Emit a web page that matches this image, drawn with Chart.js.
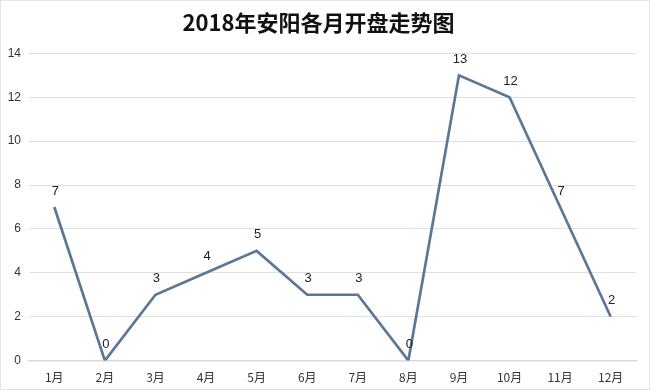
<!DOCTYPE html>
<html><head><meta charset="utf-8">
<script src="https://cdn.jsdelivr.net/npm/chart.js@4"></script>
<style>html,body{margin:0;padding:0;background:#fff}#wrap{width:650px;height:390px;position:relative;box-sizing:border-box;border:1px solid #e4e4e4}</style>
</head><body><div id="wrap"><canvas id="c"></canvas></div>
<script>
const categories = ['1月','2月','3月','4月','5月','6月','7月','8月','9月','10月','11月','12月'];
const values = [7,0,3,4,5,3,3,0,13,12,7,2];
const yTicks = [0,2,4,6,8,10,12,14];
const titleText = '2018年安阳各月开盘走势图';

const labelPlugin = {
  id: 'lbl',
  afterDatasetsDraw(chart) {
    const ctx = chart.ctx;
    const meta = chart.getDatasetMeta(0);
    ctx.save();
    ctx.font = '13px "Liberation Sans", Arial, sans-serif';
    ctx.fillStyle = '#222';
    ctx.textAlign = 'center';
    ctx.textBaseline = 'middle';
    meta.data.forEach((p, i) => {
      ctx.fillText(String(values[i]), p.x + 1, p.y - 16);
    });
    ctx.restore();
  }
};

new Chart(document.getElementById('c'), {
  type: 'line',
  data: { labels: categories, datasets: [{ data: values, borderColor: '#5a7896', borderWidth: 2.7, pointRadius: 0, tension: 0, fill: false }] },
  options: {
    responsive: true, maintainAspectRatio: false, animation: false,
    layout: { padding: { left: 0, right: 13, top: 0, bottom: 2 } },
    plugins: {
      legend: { display: false }, tooltip: { enabled: false },
      title: { display: true, text: titleText, color: '#111', font: { family: '"Noto Sans CJK SC", sans-serif', size: 22, weight: 'bold' }, padding: { top: 8, bottom: 18 } }
    },
    scales: {
      x: { offset: true, grid: { display: false }, border: { color: '#d9d9d9', width: 1.5 },
           ticks: { color: '#333', font: { family: '"Noto Sans CJK SC", sans-serif', size: 12 }, padding: 2 } },
      y: { min: 0, max: 14, afterBuildTicks: s => { s.ticks = yTicks.map(v => ({ value: v })); },
           afterFit: s => { s.width = 28; },
           grid: { color: '#e0e0e0', drawTicks: false }, border: { display: false },
           ticks: { color: '#333', font: { family: '"Liberation Sans", Arial, sans-serif', size: 12 }, padding: 8 } }
    }
  },
  plugins: [labelPlugin]
});
</script></body></html>
